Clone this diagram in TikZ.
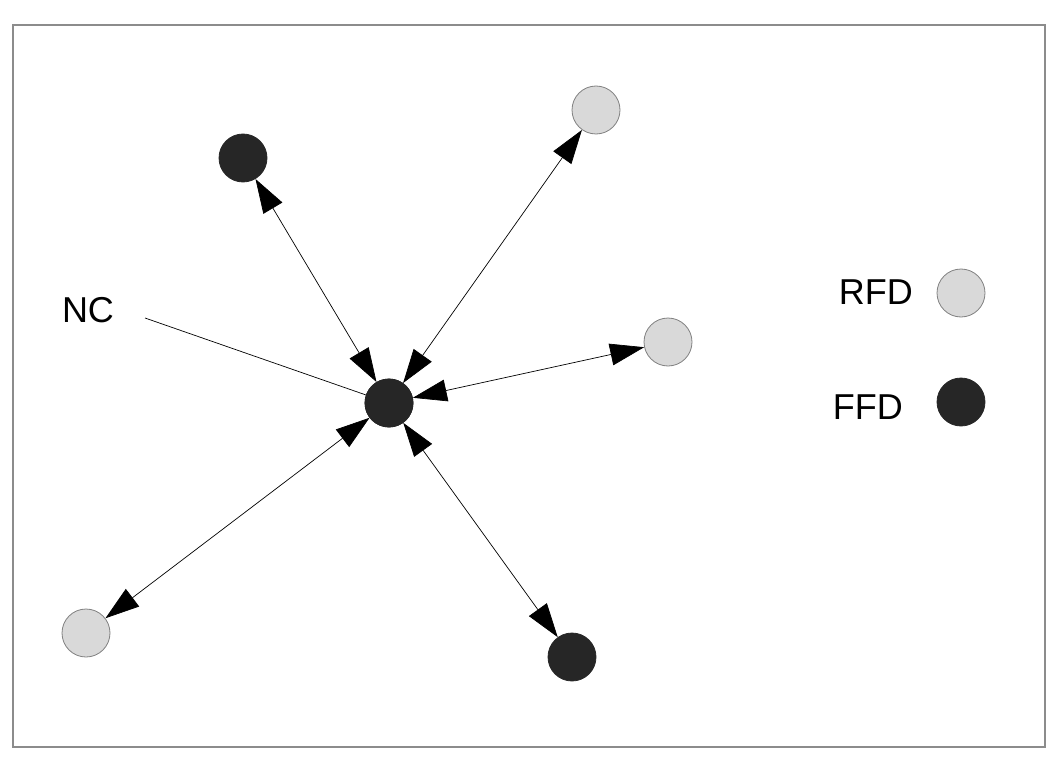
\documentclass[tikz,border=0pt]{standalone}
\usepackage{fontspec}
\setmainfont{Liberation Sans}
\usetikzlibrary{arrows.meta}
\definecolor{darkfill}{HTML}{262626}
\definecolor{lightfill}{HTML}{D9D9D9}
\definecolor{lightedge}{HTML}{808080}
\definecolor{framecol}{HTML}{8C8C8C}
\begin{document}
\begin{tikzpicture}[x=1pt,y=-1pt,
  ffd/.style={circle,fill=darkfill,draw=darkfill,line width=0.8pt,minimum size=48pt,inner sep=0pt},
  rfd/.style={circle,fill=lightfill,draw=lightedge,line width=0.8pt,minimum size=48pt,inner sep=0pt},
  link/.style={draw=black,line width=0.7pt,{Triangle[length=34pt,width=22pt]}-{Triangle[length=34pt,width=22pt]}},
  lbl/.style={font=\fontsize{36}{40}\selectfont,inner sep=0pt}]
\useasboundingbox (0,0) rectangle (1051,778);
\draw[framecol,line width=1.5pt] (13,25) rectangle (1045,747);
\node[ffd] (nc) at (389,403) {};
\node[ffd] (tl) at (243,158) {};
\node[rfd] (tp) at (596,110) {};
\node[rfd] (rt) at (668,342) {};
\node[rfd] (bl) at (86,633) {};
\node[ffd] (bt) at (572,657) {};
\node[rfd] (lr) at (961,293) {};
\node[ffd] (lf) at (961,402) {};
\node[lbl] (nclabel) at (88,310) {NC};
\node[lbl,anchor=east] (rfdlabel) at (913,292) {RFD};
\node[lbl,anchor=east] (ffdlabel) at (903,407) {FFD};
\coordinate (ncstart) at (145,318);
\draw[line width=0.7pt] (ncstart) -- (nc.center);
\path[link] (tl) -- (nc);
\path[link] (tp) -- (nc);
\path[link] (rt) -- (nc);
\path[link] (bl) -- (nc);
\path[link] (bt) -- (nc);
\node[ffd] at (nc) {};
\end{tikzpicture}
\end{document}
